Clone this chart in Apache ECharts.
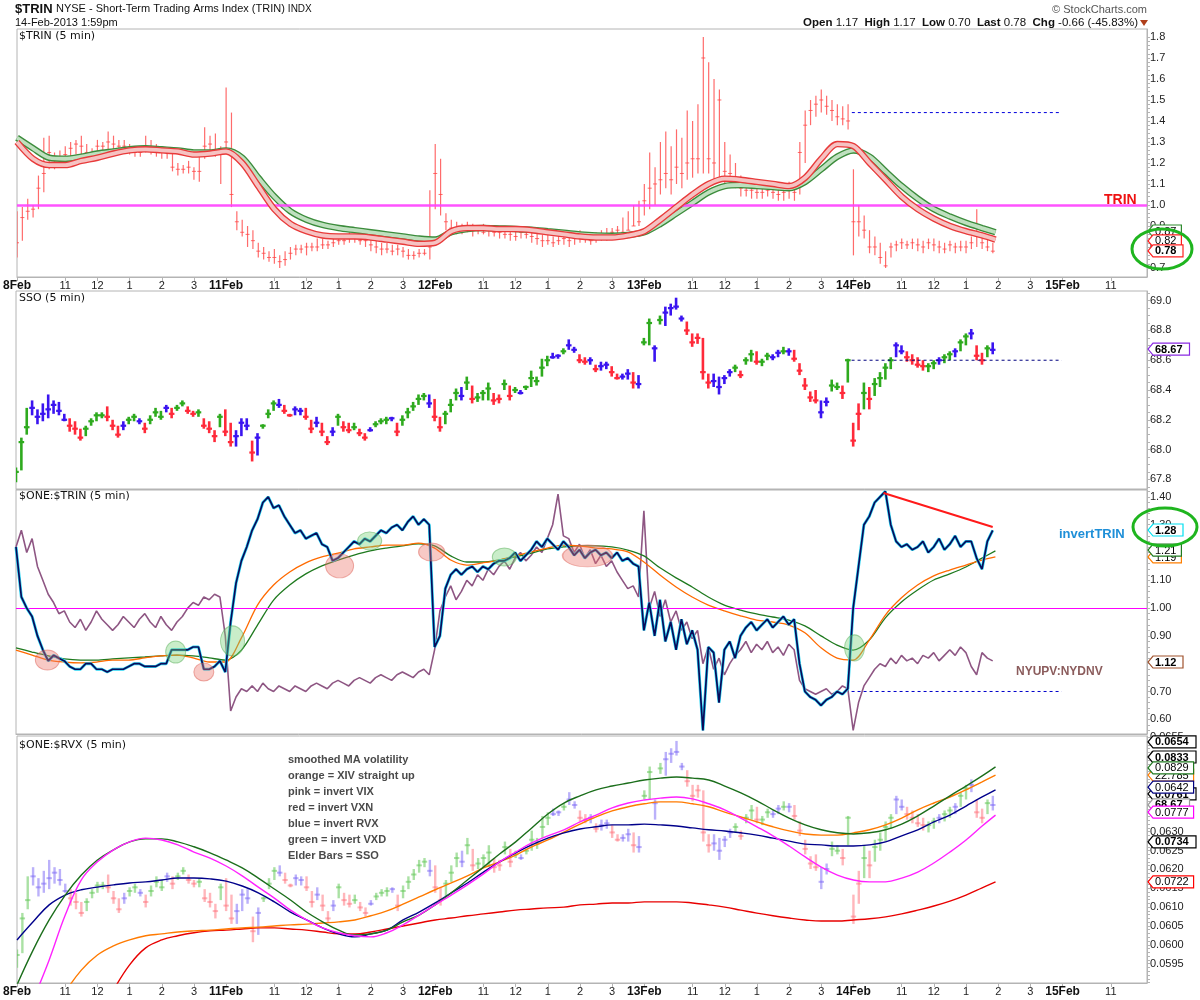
<!DOCTYPE html>
<html><head><meta charset="utf-8">
<script src="https://cdn.jsdelivr.net/npm/echarts@6/dist/echarts.min.js"></script>
<style>html,body{margin:0;padding:0;background:#fff}#c{width:1200px;height:1000px}</style>
</head><body><div id="c"></div>
<script>
// ---------- time structure ----------
const BARS_PER_DAY = 78;          // 5-min bars per session
const STEP = 2;                   // sample spacing of bar data (bars)
const MA_STEP = 6;                // sample spacing of smooth averages (bars)
const LAST_BAR = 365;
const X_MAX = 421.5;
const dayNames = ['8Feb','11Feb','12Feb','13Feb','14Feb','15Feb'];
const hourNames = ['11','12','1','2','3'];
const hourOffsets = [18,30,42,54,66];

// ---------- axis tick labels ----------
const trinAxisLabels = [0.7,0.8,0.9,1.0,1.1,1.2,1.3,1.4,1.5,1.6,1.7,1.8];
const ssoAxisLabels = [67.8,68.0,68.2,68.4,68.6,68.8,69.0];
const oneTrinAxisLabels = [0.6,0.7,0.8,0.9,1.0,1.1,1.2,1.3,1.4];
const rvxAxisLabels = [0.0595,0.0600,0.0605,0.0610,0.0615,0.0620,0.0625,0.0630,0.0635,0.0640,0.0645,0.0650,0.0655];

// ---------- $TRIN 5-min bars (every 2nd bar) ----------
const trinHigh = [
0.97,0.99,1.03,1.00,1.14,1.32,1.33,1.25,1.26,1.28,1.30,1.31,1.33,1.29,1.27,1.31,1.30,1.35,1.33,1.31,1.31,1.29,1.27,1.28,1.33,1.31,1.29,1.28,1.27,1.25,1.20,1.19,1.21,1.18,1.24,1.37,1.33,1.34,1.28,
1.56,1.44,0.97,0.93,0.90,0.88,0.82,0.80,0.78,0.79,0.76,0.78,0.80,0.81,0.81,0.82,0.82,0.84,0.84,0.83,0.85,0.85,0.86,0.87,0.86,0.85,0.86,0.84,0.83,0.82,0.82,0.81,0.81,0.80,0.79,0.78,0.79,0.79,1.07,
1.29,1.22,0.96,0.93,0.92,0.91,0.92,0.91,0.90,0.91,0.90,0.89,0.90,0.89,0.89,0.88,0.90,0.89,0.88,0.87,0.86,0.86,0.85,0.86,0.86,0.85,0.87,0.88,0.87,0.86,0.87,0.88,0.89,0.89,0.90,0.94,0.97,1.00,1.02,
1.10,1.25,1.18,1.30,1.35,1.28,1.36,1.32,1.45,1.40,1.48,1.80,1.68,1.60,1.55,1.30,1.24,1.20,1.14,1.12,1.12,1.11,1.10,1.11,1.10,1.09,1.10,1.11,1.10,1.30,1.45,1.50,1.52,1.55,1.52,1.50,1.48,1.47,1.48,
1.17,1.00,0.95,0.88,0.85,0.82,0.78,0.82,0.83,0.84,0.83,0.84,0.84,0.83,0.84,0.84,0.83,0.82,0.83,0.82,0.83,0.83,0.85,0.98,0.86,0.85,0.82];
const trinLow = [
0.75,0.83,0.93,0.94,0.98,1.06,1.17,1.17,1.19,1.20,1.22,1.24,1.24,1.21,1.22,1.25,1.25,1.26,1.26,1.24,1.25,1.24,1.23,1.23,1.25,1.24,1.23,1.22,1.22,1.16,1.14,1.15,1.15,1.12,1.11,1.22,1.24,1.23,1.10,
1.25,0.99,0.88,0.85,0.80,0.79,0.75,0.74,0.73,0.72,0.70,0.71,0.74,0.76,0.77,0.76,0.78,0.78,0.79,0.79,0.80,0.81,0.81,0.82,0.82,0.81,0.80,0.78,0.77,0.76,0.77,0.76,0.76,0.75,0.74,0.74,0.75,0.76,0.74,
0.98,0.95,0.88,0.86,0.86,0.86,0.87,0.85,0.86,0.86,0.85,0.85,0.84,0.84,0.83,0.83,0.84,0.84,0.82,0.81,0.80,0.81,0.80,0.81,0.81,0.80,0.81,0.82,0.82,0.81,0.82,0.83,0.83,0.84,0.84,0.86,0.88,0.90,0.90,
0.95,0.98,1.00,1.05,1.08,1.05,1.10,1.08,1.12,1.13,1.15,1.15,1.15,1.12,1.12,1.10,1.10,1.08,1.04,1.04,1.03,1.03,1.03,1.04,1.03,1.02,1.02,1.03,1.02,1.05,1.20,1.38,1.42,1.44,1.43,1.40,1.38,1.38,1.36,
0.76,0.85,0.84,0.77,0.76,0.72,0.70,0.75,0.78,0.79,0.79,0.79,0.78,0.77,0.79,0.78,0.77,0.77,0.78,0.77,0.78,0.77,0.79,0.80,0.79,0.78,0.77];
const trinClose = [
0.82,0.94,0.97,0.98,1.08,1.15,1.25,1.21,1.22,1.24,1.27,1.29,1.28,1.25,1.25,1.28,1.28,1.30,1.29,1.28,1.28,1.27,1.25,1.25,1.27,1.27,1.26,1.25,1.25,1.18,1.17,1.17,1.18,1.16,1.16,1.28,1.29,1.26,1.24,
1.30,1.05,0.92,0.87,0.86,0.83,0.78,0.77,0.75,0.75,0.73,0.74,0.77,0.79,0.79,0.80,0.80,0.80,0.81,0.81,0.82,0.83,0.83,0.84,0.85,0.83,0.83,0.81,0.80,0.79,0.79,0.78,0.79,0.78,0.76,0.76,0.77,0.77,0.80,
1.15,1.05,0.92,0.89,0.88,0.89,0.88,0.88,0.88,0.87,0.88,0.87,0.87,0.86,0.86,0.85,0.87,0.86,0.85,0.84,0.83,0.83,0.82,0.83,0.84,0.83,0.84,0.85,0.84,0.83,0.85,0.86,0.86,0.87,0.88,0.87,0.88,0.90,0.92,
1.02,1.08,1.10,1.12,1.15,1.12,1.18,1.15,1.20,1.22,1.22,1.70,1.22,1.20,1.50,1.16,1.15,1.12,1.08,1.07,1.07,1.06,1.06,1.07,1.06,1.05,1.06,1.07,1.06,1.25,1.38,1.45,1.48,1.50,1.47,1.45,1.42,1.41,1.40,
0.92,0.92,0.88,0.80,0.80,0.75,0.71,0.80,0.81,0.82,0.81,0.82,0.81,0.80,0.82,0.81,0.80,0.79,0.81,0.80,0.80,0.80,0.82,0.85,0.82,0.80,0.78];
// smoothed averages on $TRIN (every 6th bar, last at bar 365)
const trinRedMA = [1.30,1.22,1.19,1.19,1.21,1.225,1.245,1.26,1.265,1.26,1.255,1.24,1.245,1.255,1.20,1.09,0.98,0.91,0.875,0.855,0.85,0.85,0.845,0.835,0.825,0.815,0.82,0.875,0.89,0.89,0.885,0.885,0.88,0.87,0.86,0.85,0.845,0.845,0.855,0.875,0.93,0.99,1.05,1.10,1.125,1.12,1.11,1.10,1.09,1.13,1.22,1.29,1.28,1.20,1.12,1.04,0.98,0.935,0.90,0.875,0.855,0.835];
const trinGreenMA = [1.32,1.27,1.225,1.22,1.23,1.245,1.255,1.265,1.27,1.265,1.26,1.25,1.25,1.26,1.225,1.13,1.04,0.97,0.93,0.905,0.89,0.88,0.87,0.86,0.85,0.84,0.835,0.87,0.885,0.89,0.888,0.886,0.882,0.875,0.868,0.86,0.855,0.853,0.857,0.87,0.91,0.96,1.01,1.06,1.09,1.095,1.09,1.085,1.08,1.11,1.17,1.23,1.26,1.23,1.16,1.09,1.03,0.98,0.945,0.915,0.89,0.87];
const trinResistance = 1.44;
const trinTagValues = [0.876,0.829,0.781];
const trinTagTexts = ['0.87','0.82','0.78'];

// ---------- SSO 5-min bars (every 2nd bar) ----------
const ssoHigh = [
67.88,68.08,68.28,68.33,68.27,68.31,68.37,68.33,68.32,68.24,68.21,68.19,68.14,68.16,68.21,68.25,68.25,68.29,68.20,68.16,68.19,68.22,68.24,68.21,68.18,68.23,68.28,68.26,68.30,68.28,68.30,68.33,68.29,68.26,68.27,68.21,68.19,68.13,68.24,
68.27,68.18,68.13,68.21,68.21,68.06,68.11,68.17,68.27,68.33,68.34,68.30,68.24,68.29,68.28,68.28,68.20,68.22,68.18,68.09,68.15,68.24,68.19,68.18,68.18,68.14,68.11,68.15,68.19,68.21,68.22,68.22,68.18,68.23,68.28,68.32,68.37,68.38,68.37,
68.34,68.22,68.26,68.34,68.41,68.42,68.49,68.43,68.38,68.40,68.45,68.38,68.37,68.47,68.43,68.42,68.40,68.43,68.53,68.49,68.61,68.63,68.65,68.64,68.68,68.74,68.69,68.64,68.62,68.62,68.57,68.59,68.59,68.56,68.51,68.51,68.54,68.52,68.50,
68.75,68.88,68.70,68.90,68.96,68.98,69.02,68.90,68.86,68.78,68.78,68.75,68.51,68.51,68.49,68.50,68.54,68.57,68.53,68.62,68.67,68.66,68.61,68.65,68.64,68.67,68.69,68.68,68.67,68.58,68.48,68.39,68.40,68.33,68.35,68.47,68.45,68.43,68.61,
68.18,68.31,68.45,68.42,68.48,68.52,68.58,68.62,68.72,68.70,68.66,68.64,68.62,68.60,68.58,68.60,68.62,68.64,68.66,68.68,68.74,68.78,68.81,68.70,68.65,68.70,68.72];
const ssoLow = [
67.78,67.86,68.10,68.23,68.17,68.19,68.21,68.24,68.23,68.19,68.12,68.10,68.06,68.09,68.16,68.19,68.21,68.19,68.13,68.08,68.13,68.17,68.19,68.17,68.11,68.17,68.22,68.20,68.25,68.21,68.26,68.29,68.24,68.22,68.22,68.14,68.11,68.05,68.15,
68.09,68.02,68.02,68.09,68.13,67.92,67.96,68.14,68.21,68.26,68.28,68.24,68.22,68.23,68.23,68.20,68.11,68.15,68.09,68.03,68.09,68.16,68.12,68.11,68.13,68.09,68.06,68.12,68.15,68.17,68.17,68.19,68.09,68.16,68.21,68.26,68.30,68.33,68.28,
68.19,68.12,68.17,68.25,68.33,68.33,68.40,68.31,68.32,68.33,68.33,68.30,68.31,68.40,68.33,68.38,68.37,68.40,68.42,68.43,68.49,68.56,68.61,68.61,68.64,68.67,68.65,68.58,68.57,68.57,68.52,68.53,68.54,68.49,68.47,68.47,68.47,68.41,68.41,
68.70,68.70,68.59,68.84,68.83,68.90,68.94,68.86,68.77,68.69,68.71,68.47,68.41,68.42,68.37,68.44,68.49,68.52,68.48,68.57,68.59,68.57,68.56,68.60,68.60,68.62,68.64,68.63,68.59,68.50,68.40,68.32,68.31,68.21,68.29,68.39,68.40,68.34,68.45,
68.02,68.13,68.27,68.27,68.36,68.42,68.47,68.54,68.62,68.64,68.59,68.57,68.55,68.53,68.52,68.54,68.57,68.58,68.60,68.62,68.66,68.70,68.74,68.60,68.57,68.62,68.64];
const ssoClose = [
67.85,68.05,68.15,68.28,68.22,68.24,68.27,68.30,68.26,68.20,68.16,68.14,68.08,68.14,68.19,68.23,68.23,68.22,68.16,68.10,68.16,68.20,68.22,68.19,68.14,68.20,68.25,68.22,68.28,68.24,68.28,68.31,68.26,68.24,68.25,68.16,68.14,68.09,68.22,
68.12,68.05,68.09,68.18,68.16,67.98,68.08,68.16,68.24,68.31,68.30,68.26,68.23,68.27,68.26,68.22,68.14,68.18,68.12,68.05,68.12,68.22,68.15,68.13,68.15,68.11,68.08,68.13,68.17,68.19,68.20,68.21,68.12,68.20,68.25,68.29,68.34,68.36,68.31,
68.22,68.15,68.24,68.30,68.38,68.36,68.45,68.34,68.35,68.38,68.41,68.33,68.34,68.44,68.36,68.40,68.38,68.42,68.48,68.46,68.55,68.60,68.62,68.63,68.66,68.70,68.67,68.60,68.59,68.60,68.54,68.56,68.57,68.52,68.48,68.49,68.51,68.45,68.44,
68.72,68.85,68.68,68.87,68.92,68.95,68.96,68.88,68.80,68.72,68.75,68.52,68.45,68.46,68.42,68.48,68.52,68.55,68.50,68.60,68.64,68.59,68.59,68.63,68.62,68.65,68.66,68.66,68.61,68.53,68.43,68.35,68.33,68.25,68.32,68.43,68.42,68.38,68.60,
68.06,68.24,68.38,68.34,68.44,68.48,68.55,68.60,68.70,68.66,68.62,68.60,68.57,68.56,68.56,68.58,68.60,68.62,68.64,68.66,68.72,68.76,68.78,68.63,68.60,68.68,68.67];
// Elder impulse colour per bar: g = green, r = red, b = blue
const ssoElder = (
'gggbbbbbbbrrrggggrrrbggbrgggbrggrrgrrrg' +
'rrbbbrbgggbrrbbrrbrrbgrrgrrbgggbrgggggb' +
'rrgggbgrgggrrgrgbgggggbbgbbrrbrbbrrbbrb' +
'ggbgbbbbrrrrrbbbbgrggrggbbgbrrrrrbbggrg' +
'rrgrggggbbrrrrggbggbggbrrgb').split('');
const ssoSupport = 68.60;
const ssoTagValues = [68.675];
const ssoTagTexts = ['68.67'];

// ---------- $ONE:$TRIN panel ----------
const invertTrin = [
1.22,1.04,1.00,0.97,0.90,0.85,0.81,0.83,0.82,0.81,0.79,0.78,0.78,0.80,0.80,0.78,0.78,0.77,0.78,0.78,0.78,0.79,0.80,0.80,0.79,0.79,0.79,0.80,0.80,0.85,0.85,0.85,0.85,0.86,0.86,0.78,0.78,0.79,0.81,
0.77,0.95,1.09,1.17,1.22,1.28,1.32,1.38,1.40,1.36,1.37,1.33,1.30,1.27,1.28,1.25,1.26,1.27,1.23,1.22,1.17,1.18,1.20,1.22,1.24,1.23,1.25,1.24,1.26,1.28,1.27,1.29,1.30,1.28,1.31,1.33,1.30,1.32,1.30,
0.86,0.90,1.07,1.12,1.14,1.12,1.14,1.15,1.13,1.15,1.14,1.16,1.17,1.17,1.18,1.20,1.17,1.19,1.21,1.24,1.22,1.25,1.23,1.21,1.24,1.22,1.19,1.21,1.18,1.20,1.21,1.19,1.20,1.18,1.20,1.17,1.18,1.16,1.15,
0.92,1.02,0.90,1.03,0.88,0.95,0.85,0.96,0.87,0.92,0.85,0.56,0.86,0.84,0.66,0.85,0.88,0.82,0.90,0.93,0.95,0.92,0.94,0.96,0.93,0.95,0.97,0.94,0.96,0.80,0.70,0.68,0.67,0.65,0.67,0.68,0.70,0.69,0.71,
1.00,1.15,1.30,1.33,1.38,1.40,1.42,1.30,1.24,1.22,1.23,1.21,1.22,1.24,1.20,1.22,1.25,1.21,1.23,1.26,1.22,1.24,1.24,1.18,1.14,1.24,1.28];
const upDownVolume = [
1.22,1.28,1.20,1.25,1.15,1.10,1.05,1.02,0.98,0.99,0.95,0.93,0.96,0.92,0.95,0.99,0.96,0.94,0.92,0.94,0.97,0.95,0.93,0.96,0.98,0.95,0.93,0.97,0.94,0.92,0.95,0.97,1.00,1.02,1.01,1.04,1.03,1.05,1.04,
0.90,0.63,0.68,0.71,0.70,0.72,0.70,0.73,0.71,0.70,0.72,0.71,0.70,0.72,0.71,0.70,0.72,0.73,0.72,0.71,0.73,0.74,0.73,0.72,0.74,0.75,0.74,0.73,0.75,0.76,0.75,0.74,0.76,0.77,0.76,0.75,0.77,0.78,0.76,
0.85,0.99,1.04,1.08,1.03,1.06,1.10,1.08,1.12,1.10,1.14,1.12,1.15,1.17,1.14,1.18,1.20,1.17,1.19,1.22,1.20,1.25,1.30,1.41,1.26,1.25,1.20,1.23,1.18,1.21,1.16,1.19,1.15,1.17,1.13,1.10,1.07,1.08,1.04,
1.35,1.00,1.06,0.97,1.03,0.95,0.99,0.92,0.95,0.89,0.92,0.80,0.86,0.78,0.82,0.76,0.80,0.83,0.85,0.88,0.84,0.87,0.85,0.88,0.84,0.86,0.83,0.87,0.85,0.74,0.71,0.70,0.69,0.70,0.71,0.69,0.70,0.72,0.71,
0.56,0.66,0.72,0.75,0.78,0.80,0.79,0.82,0.80,0.83,0.81,0.82,0.80,0.83,0.82,0.84,0.81,0.83,0.85,0.83,0.86,0.84,0.79,0.76,0.84,0.82,0.81];
const oneTrinOrangeMA = [0.849,0.831,0.813,0.806,0.803,0.806,0.813,0.813,0.821,0.828,0.831,0.821,0.806,0.806,0.893,1.011,1.083,1.130,1.163,1.184,1.198,1.213,1.220,1.227,1.227,1.234,1.216,1.173,1.155,1.163,1.173,1.188,1.202,1.216,1.227,1.224,1.216,1.213,1.202,1.166,1.119,1.076,1.040,1.011,0.990,0.972,0.957,0.950,0.939,0.911,0.857,0.820,0.813,0.885,0.975,1.037,1.083,1.116,1.137,1.155,1.173,1.184];
const oneTrinGreenMA = [0.857,0.842,0.828,0.817,0.813,0.813,0.817,0.821,0.824,0.828,0.831,0.828,0.821,0.813,0.849,0.939,1.029,1.083,1.123,1.152,1.173,1.191,1.206,1.216,1.224,1.231,1.224,1.188,1.166,1.166,1.173,1.184,1.198,1.213,1.220,1.224,1.224,1.220,1.209,1.188,1.145,1.109,1.076,1.040,1.011,0.993,0.979,0.968,0.957,0.936,0.900,0.867,0.849,0.885,0.965,1.022,1.065,1.101,1.123,1.148,1.180,1.206];
// crossover highlights (bar, value, kind)
const crossBars = [11.7,59.5,70,80.7,120.6,131.8,154.9,182,213,312.5];
const crossVals = [0.813,0.842,0.770,0.882,1.152,1.242,1.202,1.184,1.188,0.857];
const crossKind = ['sell','buy','sell','buy','sell','buy','sell','buy','sell','buy'];
const trendBars = [323.3,364]; const trendVals = [1.414,1.292];
const levelBars = [311.4,389.7];
const oneTrinSupport = 0.70;
const oneTrinTagValues = [1.281,1.184,1.209,0.806];
const oneTrinTagTexts = ['1.28','1.19','1.21','1.12'];

// ---------- $ONE:$RVX panel: smoothed MA volatility (every 6th bar) ----------
const volPink = [null,0.05854,0.05960,0.06079,0.06172,0.06220,0.06252,0.06273,0.06283,0.06278,0.06265,0.06246,0.06230,0.06209,0.06183,0.06153,0.06124,0.06092,0.06066,0.06045,0.06032,0.06024,0.06021,0.06032,0.06053,0.06079,0.06106,0.06132,0.06159,0.06188,0.06220,0.06246,0.06270,0.06289,0.06305,0.06326,0.06344,0.06363,0.06376,0.06384,0.06389,0.06392,0.06387,0.06374,0.06358,0.06336,0.06313,0.06289,0.06262,0.06233,0.06206,0.06185,0.06172,0.06167,0.06167,0.06177,0.06193,0.06217,0.06246,0.06278,0.06315,0.06344];
const volGreen = [0.05894,0.05986,0.06066,0.06132,0.06185,0.06225,0.06252,0.06273,0.06281,0.06281,0.06273,0.06260,0.06244,0.06225,0.06204,0.06177,0.06148,0.06119,0.06087,0.06061,0.06039,0.06026,0.06029,0.06039,0.06061,0.06079,0.06106,0.06138,0.06172,0.06206,0.06241,0.06273,0.06310,0.06347,0.06376,0.06395,0.06411,0.06421,0.06429,0.06437,0.06442,0.06445,0.06442,0.06437,0.06421,0.06403,0.06382,0.06358,0.06336,0.06318,0.06305,0.06297,0.06294,0.06297,0.06305,0.06320,0.06342,0.06368,0.06395,0.06421,0.06448,0.06472];
const volBlue = [0.06013,0.06061,0.06106,0.06132,0.06146,0.06153,0.06159,0.06164,0.06167,0.06172,0.06177,0.06177,0.06175,0.06169,0.06156,0.06138,0.06114,0.06087,0.06066,0.06045,0.06029,0.06021,0.06029,0.06039,0.06066,0.06087,0.06111,0.06138,0.06164,0.06193,0.06220,0.06244,0.06265,0.06283,0.06297,0.06307,0.06313,0.06318,0.06318,0.06320,0.06318,0.06315,0.06310,0.06305,0.06302,0.06297,0.06291,0.06283,0.06275,0.06267,0.06265,0.06262,0.06262,0.06265,0.06273,0.06289,0.06305,0.06326,0.06344,0.06368,0.06392,0.06411];
const volOrange = [null,null,null,0.05875,0.05933,0.05973,0.05997,0.06013,0.06024,0.06029,0.06034,0.06037,0.06039,0.06042,0.06045,0.06047,0.06050,0.06053,0.06055,0.06058,0.06061,0.06066,0.06077,0.06090,0.06108,0.06127,0.06146,0.06164,0.06183,0.06204,0.06220,0.06238,0.06260,0.06278,0.06299,0.06320,0.06339,0.06355,0.06366,0.06374,0.06379,0.06379,0.06374,0.06366,0.06352,0.06339,0.06326,0.06313,0.06302,0.06294,0.06291,0.06291,0.06297,0.06305,0.06318,0.06336,0.06358,0.06376,0.06392,0.06411,0.06432,0.06450];
const volRed = [null,null,null,null,null,null,0.05880,0.05947,0.05992,0.06013,0.06024,0.06032,0.06037,0.06039,0.06042,0.06045,0.06045,0.06042,0.06039,0.06034,0.06029,0.06029,0.06034,0.06042,0.06050,0.06058,0.06066,0.06071,0.06077,0.06082,0.06087,0.06092,0.06095,0.06098,0.06100,0.06106,0.06108,0.06111,0.06111,0.06114,0.06114,0.06114,0.06111,0.06106,0.06100,0.06092,0.06084,0.06077,0.06071,0.06066,0.06063,0.06063,0.06066,0.06069,0.06074,0.06082,0.06092,0.06103,0.06116,0.06132,0.06151,0.06167];
const rvxTagValues = [0.06538,0.06498,0.06400,0.06371,0.06273,0.06450,0.06469,0.06418,0.06352,0.06167];
const rvxTagTexts = ['0.0654','0.0833','0.0761','68.67','0.0734','22.785','0.0829','0.0642','0.0777','0.0722'];
const noteLines = ['smoothed MA volatility','orange = XIV straight up','pink = invert VIX','red = invert VXN','blue = invert RVX','green = invert VXD','Elder Bars = SSO'];

// ================= build =================
const chart = echarts.init(document.getElementById('c'), null, {renderer:'canvas'});
const FONT = 'Arial, "Liberation Sans", sans-serif';

const xTicks = [];
dayNames.forEach((d, i) => { const s = i * BARS_PER_DAY; xTicks.push(s); hourOffsets.forEach(o => { if (s + o <= 410) xTicks.push(s + o); }); });
function xLabel(v) {
  const r = Math.round(v) % BARS_PER_DAY;
  if (r === 0) return '{d|' + dayNames[Math.round(v) / BARS_PER_DAY] + '}';
  return hourNames[hourOffsets.indexOf(r)];
}
function range(a, b, s) { const o = []; for (let v = a; v <= b + s * 1e-3; v += s) o.push(+v.toFixed(6)); return o; }
const maBars = Array.from({length: 61}, (_, i) => i * MA_STEP).concat([LAST_BAR]);
const pairs = (arr, xs) => arr.map((v, i) => [xs ? xs[i] : i * STEP, v]);

function xAxisFor(g, show) {
  return {type:'value', gridIndex:g, min:0, max:X_MAX,
    axisLine:{show:true, onZero:false, lineStyle:{color:'#b4b4b4'}}, splitLine:{show:false},
    axisTick:{show:show, customValues:xTicks, length:4, lineStyle:{color:'#b4b4b4'}},
    axisLabel:{show:show, customValues:xTicks, margin:3, fontSize:11, color:'#222', fontFamily:FONT,
      formatter:xLabel, rich:{d:{fontWeight:'bold', fontSize:12, color:'#111', fontFamily:FONT}}}};
}
function yAxisFor(g, min, max, labels, ticks, dec) {
  return {type:'value', gridIndex:g, position:'right', min:min, max:max,
    axisLine:{show:true, onZero:false, lineStyle:{color:'#b4b4b4'}}, splitLine:{show:false},
    axisTick:{show:true, customValues:ticks, length:3, lineStyle:{color:'#b4b4b4'}},
    axisLabel:{customValues:labels, formatter:v => v.toFixed(dec), margin:3, fontSize:11, color:'#222', fontFamily:FONT}};
}

function hlcSeries(xi, yi, high, low, close, colorFn, lw, half, z, tickW) {
  return {type:'custom', xAxisIndex:xi, yAxisIndex:yi, clip:true, silent:true, z:z || 2,
    data: close.map((c, i) => [i * STEP, high[i], low[i], c]),
    renderItem: (params, api) => {
      const x = api.value(0);
      const h = api.coord([x, api.value(1)]), l = api.coord([x, api.value(2)]), c = api.coord([x, api.value(3)]);
      const col = colorFn(params.dataIndex);
      return {type:'group', children:[
        {type:'line', shape:{x1:h[0], y1:h[1], x2:l[0], y2:l[1]}, style:{stroke:col, lineWidth:lw}},
        {type:'line', shape:{x1:c[0] - half, y1:c[1], x2:c[0] + half, y2:c[1]}, style:{stroke:col, lineWidth:tickW || Math.max(1, lw - 0.5)}}
      ]};
    }};
}
function tagSeries(xi, yi, vals, texts, colors, bolds) {
  return {type:'custom', xAxisIndex:xi, yAxisIndex:yi, clip:false, silent:true, z:30,
    data: vals.map(v => [X_MAX, v]),
    renderItem: (params, api) => {
      const i = params.dataIndex;
      const p = api.coord([api.value(0), api.value(1)]);
      const x = p[0] + 1, y = p[1], b = bolds[i], t = texts[i];
      const w = t.length * (b ? 6.5 : 6.1) + 4, h = 6;
      return {type:'group', children:[
        {type:'polygon', shape:{points:[[x, y], [x + 5, y - h], [x + 5 + w, y - h], [x + 5 + w, y + h], [x + 5, y + h]]},
          style:{fill:'#fff', stroke:colors[i], lineWidth:1.2}},
        {type:'text', x:x + 7, y:y + 0.5, style:{text:t, fill:'#000', font:(b ? 'bold ' : '') + '11px ' + FONT, verticalAlign:'middle', align:'left'}}
      ]};
    }};
}
function lineSeries(xi, yi, data, color, width, extra) {
  return Object.assign({type:'line', xAxisIndex:xi, yAxisIndex:yi, data:data, symbol:'none', silent:true,
    lineStyle:{color:color, width:width}, connectNulls:false, z:3}, extra || {});
}

const ELDER = {g:'#2eaa1e', r:'#ff2a3a', b:'#3a14f0'};
const ELDER_LIGHT = {g:'rgba(100,200,90,0.55)', r:'rgba(255,110,120,0.5)', b:'rgba(120,100,245,0.5)'};
const maX = maBars;

const series = [
  // ---- panel 1 ----
  hlcSeries(0, 0, trinHigh, trinLow, trinClose, () => 'rgba(255,70,70,0.8)', 1.2, 2, 2),
  lineSeries(0, 0, pairs(trinGreenMA, maX), '#3c8c3c', 6.5, {smooth:0.3, z:4}),
  lineSeries(0, 0, pairs(trinGreenMA, maX), '#bfe0bf', 3.8, {smooth:0.3, z:4}),
  lineSeries(0, 0, pairs(trinRedMA, maX), '#e83a3a', 6.5, {smooth:0.3, z:5}),
  lineSeries(0, 0, pairs(trinRedMA, maX), '#f6c2c2', 3.8, {smooth:0.3, z:5,
    markLine:{silent:true, symbol:['none','none'], label:{show:false}, animation:false,
      data:[{yAxis:1.0, lineStyle:{color:'#ff40ff', width:2.5, type:'solid', opacity:0.9}}]}}),
  lineSeries(0, 0, levelBars.map(b => [b, trinResistance]), '#0000dd', 1, {lineStyle:{color:'#0000dd', width:1, type:[3,3]}}),
  tagSeries(0, 0, trinTagValues, trinTagTexts, ['#2e8b2e', '#ff2020', '#ff2020'], [false, false, true]),
  // ---- panel 2 ----
  hlcSeries(1, 1, ssoHigh, ssoLow, ssoClose, i => ELDER[ssoElder[i]], 2.6, 2.8, 3, 2.2),
  lineSeries(1, 1, levelBars.map(b => [b, ssoSupport]), '#000080', 1, {lineStyle:{color:'#000080', width:1, type:[3,3]}}),
  tagSeries(1, 1, ssoTagValues, ssoTagTexts, ['#8a2be2'], [true]),
  // ---- panel 3 ----
  lineSeries(2, 2, pairs(upDownVolume), '#8e5683', 1.6, {z:3,
    markLine:{silent:true, symbol:['none','none'], label:{show:false}, animation:false,
      data:[{yAxis:1.0, lineStyle:{color:'#ff00ff', width:1.2, type:'solid'}}]}}),
  lineSeries(2, 2, pairs(oneTrinGreenMA, maX), '#1f7a1f', 1.3, {smooth:0.3, z:4}),
  lineSeries(2, 2, pairs(oneTrinOrangeMA, maX), '#ff6a00', 1.3, {smooth:0.3, z:4}),
  lineSeries(2, 2, pairs(invertTrin), '#2ad4f2', 3.0, {z:5}),
  lineSeries(2, 2, pairs(invertTrin), '#0a0a5a', 1.7, {z:6}),
  {type:'scatter', xAxisIndex:2, yAxisIndex:2, silent:true, z:7,
    data: crossBars.map((b, i) => ({value:[b, crossVals[i]],
      symbolSize: [[24,20],[20,22],[20,18],[24,30],[28,24],[24,18],[26,18],[24,18],[50,22],[20,26]][i],
      itemStyle: crossKind[i] === 'sell'
        ? {color:'rgba(238,120,110,0.5)', borderColor:'rgba(220,90,80,0.6)', borderWidth:1}
        : {color:'rgba(120,210,120,0.5)', borderColor:'rgba(80,170,80,0.6)', borderWidth:1}}))},
  lineSeries(2, 2, trendBars.map((b, i) => [b, trendVals[i]]), '#ff1a1a', 2, {z:8}),
  lineSeries(2, 2, levelBars.map(b => [b, oneTrinSupport]), '#0000cc', 1, {lineStyle:{color:'#0000cc', width:1, type:[3,3]}}),
  tagSeries(2, 2, oneTrinTagValues, oneTrinTagTexts, ['#00e0f0', '#ff7f00', '#1f7a1f', '#a0522d'], [true, false, false, true]),
  // ---- panel 4 ----
  hlcSeries(3, 4, ssoHigh, ssoLow, ssoClose, i => ELDER_LIGHT[ssoElder[i]], 2.4, 2.7, 2, 2),
  lineSeries(3, 3, pairs(volRed, maX), '#e80000', 1.4, {smooth:0.4}),
  lineSeries(3, 3, pairs(volOrange, maX), '#ff7a00', 1.4, {smooth:0.4}),
  lineSeries(3, 3, pairs(volBlue, maX), '#00008b', 1.4, {smooth:0.4}),
  lineSeries(3, 3, pairs(volGreen, maX), '#1b6e1b', 1.4, {smooth:0.4}),
  lineSeries(3, 3, pairs(volPink, maX), '#ff22ff', 1.4, {smooth:0.4}),
  tagSeries(3, 3, rvxTagValues, rvxTagTexts,
    ['#000', '#000', '#000', '#999', '#000', '#ff7f00', '#1f7a1f', '#000080', '#ff00ff', '#ff0000'],
    [true, true, true, true, true, false, false, false, false, false])
];

const grids = [
  {top:29, height:248}, {top:291, height:198}, {top:490, height:244}, {top:736, height:247}
].map(g => Object.assign({left:16, right:53, show:true, borderColor:'#b4b4b4', borderWidth:1, backgroundColor:'#fff', containLabel:false}, g));

const txt = (x, y, text, font, fill, extra) => ({type:'text', x:x, y:y, z:50, silent:true,
  style:Object.assign({text:text, font:font, fill:fill || '#111', verticalAlign:'middle', align:'left'}, extra || {})});

const graphic = [
  txt(15, 9, '$TRIN', 'bold 13px ' + FONT, '#111'),
  txt(56, 9, 'NYSE - Short-Term Trading Arms Index (TRIN) {s|INDX}', '11px ' + FONT, '#111', {rich:{s:{font:'10px ' + FONT, fill:'#111'}}}),
  txt(15, 23, '14-Feb-2013 1:59pm', '11px ' + FONT, '#111'),
  txt(1147, 10, '\u00a9 StockCharts.com', '11px ' + FONT, '#555', {align:'right'}),
  txt(1138, 23, '{b|Open} 1.17  {b|High} 1.17  {b|Low} 0.70  {b|Last} 0.78  {b|Chg} -0.66 (-45.83%)', '11.5px ' + FONT, '#111',
      {align:'right', rich:{b:{font:'bold 11.5px ' + FONT, fill:'#111'}}}),
  {type:'polygon', z:50, silent:true, shape:{points:[[1140,20],[1148,20],[1144,26]]}, style:{fill:'#b0401c'}},
  txt(19, 36, '$TRIN (5 min)', '11px "DejaVu Sans", sans-serif', '#111'),
  txt(19, 298, 'SSO (5 min)', '11px "DejaVu Sans", sans-serif', '#111'),
  txt(19, 496, '$ONE:$TRIN (5 min)', '11px "DejaVu Sans", sans-serif', '#111'),
  txt(19, 745, '$ONE:$RVX (5 min)', '11px "DejaVu Sans", sans-serif', '#111'),
  txt(1104, 200, 'TRIN', 'bold 14px ' + FONT, '#ee1111'),
  txt(1059, 534, 'invertTRIN', 'bold 13px ' + FONT, '#1e8fd8'),
  txt(1016, 672, 'NYUPV:NYDNV', 'bold 12px ' + FONT, '#8b5c5c'),
  txt(288, 752, noteLines.join('\n'), 'bold 11px ' + FONT, '#4a4a4a', {verticalAlign:'top', lineHeight:16}),
  {type:'ellipse', z:60, silent:true, shape:{cx:1162, cy:249, rx:30, ry:20}, style:{fill:'none', stroke:'#1fb51f', lineWidth:3}},
  {type:'ellipse', z:60, silent:true, shape:{cx:1165, cy:527, rx:32, ry:19}, style:{fill:'none', stroke:'#1fb51f', lineWidth:3}}
];

chart.setOption({
  animation:false,
  backgroundColor:'#fff',
  grid:grids,
  xAxis:[xAxisFor(0, true), xAxisFor(1, false), xAxisFor(2, false), xAxisFor(3, true)],
  yAxis:[
    yAxisFor(0, 0.657, 1.838, trinAxisLabels, range(0.70, 1.80, 0.02), 1),
    yAxisFor(1, 67.735, 69.065, ssoAxisLabels, range(67.75, 69.05, 0.05), 1),
    yAxisFor(2, 0.547, 1.425, oneTrinAxisLabels, range(0.56, 1.42, 0.02), 2),
    yAxisFor(3, 0.058988, 0.065537, rvxAxisLabels, range(0.0590, 0.0655, 0.0001), 4),
    {type:'value', gridIndex:3, min:67.697, max:69.047, show:false}
  ],
  series:series,
  graphic:graphic
});
</script>
</body></html>
